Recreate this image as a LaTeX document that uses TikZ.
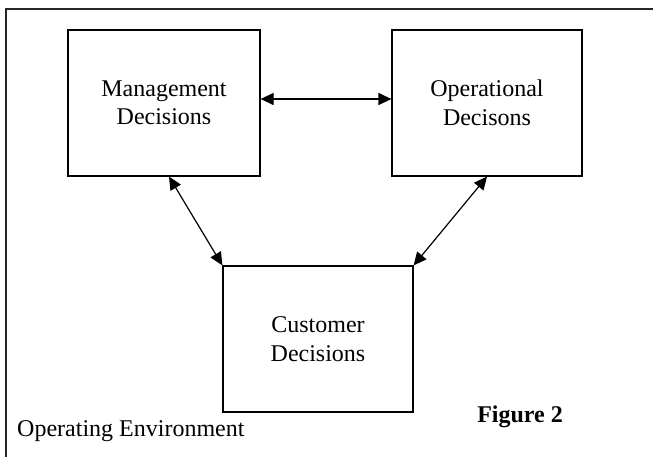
\documentclass[tikz,border=0pt]{standalone}
\usepackage{fontspec}
\setmainfont{Liberation Serif}
\usetikzlibrary{arrows.meta}
\begin{document}
\begin{tikzpicture}[x=1pt,y=-1pt,
  decision/.style={draw, line width=1.2pt, inner sep=0pt, align=center,
    minimum height=146pt, font=\fontsize{24}{28.5}\selectfont},
  link/.style={line width=1.2pt, {Triangle[length=13pt,width=12pt]}-{Triangle[length=13pt,width=12pt]}},
  frame/.style={line width=1.5pt, draw=black!85},
  caption/.style={inner sep=0pt, font=\fontsize{24}{28}\selectfont}]
  \clip (0,0) rectangle (653,456);
  % outer frame of the operating environment
  \draw[frame] (6,470) |- (670,9);
  % decision boxes
  \node[decision, minimum width=192pt] (m) at (164,103) {Management\\Decisions};
  \node[decision, minimum width=190pt] (o) at (487,103) {Operational\\Decisons};
  \node[decision, minimum width=190pt] (c) at (318,339) {Customer\\Decisions};
  % two-way links between the decision areas
  \draw[link] ([yshift=4pt]m.east) -- ([yshift=4pt]o.west);
  \draw[link] ([xshift=5pt]m.south) -- (c.north west);
  \draw[link] (o.south) -- (c.north east);
  % labels
  \node[caption, anchor=base west] (env) at (17,436) {Operating Environment};
  \node[caption, anchor=base east, font=\fontsize{24}{28}\selectfont\bfseries] (fig) at (563,422) {Figure 2};
\end{tikzpicture}
\end{document}
